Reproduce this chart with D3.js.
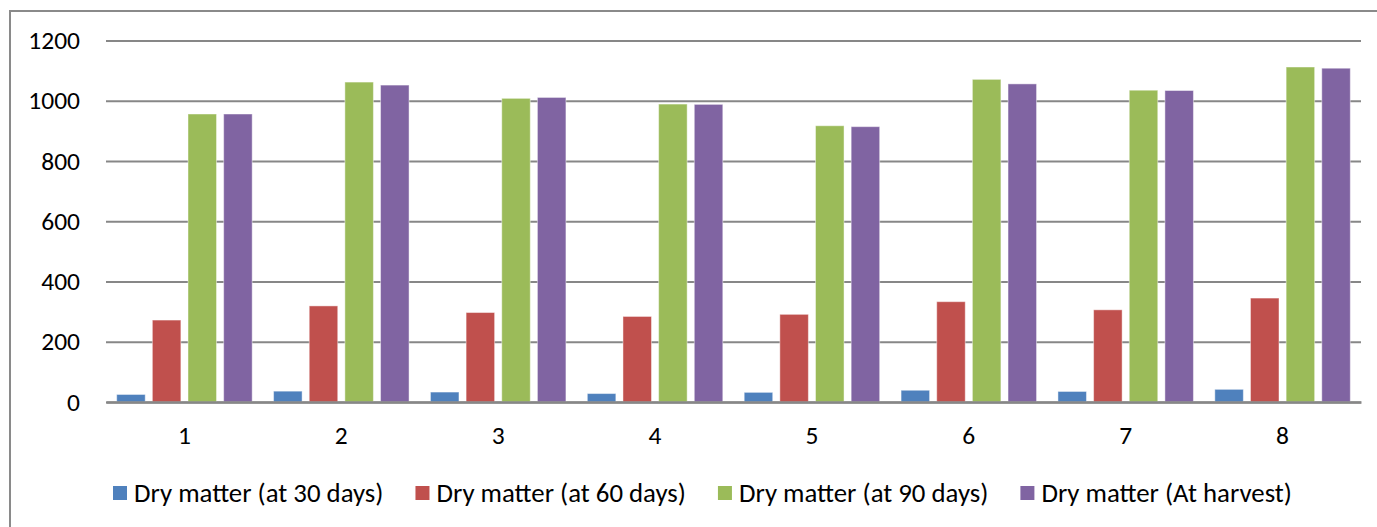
<!DOCTYPE html>
<html>
<head>
<meta charset="utf-8">
<script src="https://cdn.jsdelivr.net/npm/d3@7"></script>
<style>
  html, body { margin: 0; padding: 0; background: #fff; overflow: hidden; }
  svg { display: block; }
  text { font-family: Calibri, Carlito, Lato, "Liberation Sans", sans-serif; fill: #000; }
</style>
</head>
<body>
<script>
// Treatments on the x axis
const categories = ["1", "2", "3", "4", "5", "6", "7", "8"];

// Series names, in legend order
const seriesNames = [
  "Dry matter (at 30 days)",
  "Dry matter (at 60 days)",
  "Dry matter (at 90 days)",
  "Dry matter (At harvest)"
];

// Dry matter per treatment
const dm30 = [25, 36, 33, 28, 32, 39, 35, 42];
const dm60 = [272, 319, 297, 284, 291, 333, 306, 345];
const dm90 = [956, 1062, 1008, 989, 917, 1071, 1035, 1112];
const dmHarvest = [956, 1052, 1011, 988, 914, 1056, 1034, 1108];

// Value axis ticks
const yTicks = [0, 200, 400, 600, 800, 1000, 1200];

const seriesValues = [dm30, dm60, dm90, dmHarvest];
const colors = ["#4F81BD", "#C0504D", "#9BBB59", "#8064A2"];

const W = 1377, H = 527;
const plot = { left: 106, right: 1361, top: 40.5, bottom: 402 };
const labelSize = 25.5;
const legendSize = 26.8;

const svg = d3.select("body").append("svg")
  .attr("width", W).attr("height", H);

// Chart area frame
svg.append("rect")
  .attr("x", 10).attr("y", 11)
  .attr("width", W + 20).attr("height", H + 20)
  .attr("fill", "#fff")
  .attr("stroke", "#8a8a8a").attr("stroke-width", 2);

const x0 = d3.scaleBand()
  .domain(categories)
  .range([plot.left, plot.right])
  .paddingInner(0).paddingOuter(0);

const x1 = d3.scaleBand()
  .domain(d3.range(seriesNames.length))
  .range([0, x0.bandwidth()])
  .paddingInner(0.2).paddingOuter(0.3);

const y = d3.scaleLinear()
  .domain([0, 1200])
  .range([plot.bottom, plot.top]);

// Horizontal gridlines and value labels
const yAxis = d3.axisLeft(y)
  .tickValues(yTicks)
  .tickSize(-(plot.right - plot.left))
  .tickPadding(26)
  .tickFormat(d3.format("d"));

const gy = svg.append("g")
  .attr("transform", `translate(${plot.left},0)`)
  .call(yAxis);
gy.select(".domain").remove();
gy.selectAll(".tick line")
  .attr("stroke", "#878787").attr("stroke-width", 2);
gy.selectAll(".tick text")
  .attr("font-size", labelSize)
  .attr("fill", "#000");

// Bars
const rows = categories.map((c, i) => ({
  cat: c,
  vals: seriesValues.map((s, k) => ({ k, v: s[i] }))
}));

const groups = svg.append("g").selectAll("g")
  .data(rows).join("g")
  .attr("transform", d => `translate(${x0(d.cat)},0)`);

groups.selectAll("rect")
  .data(d => d.vals).join("rect")
  .attr("x", d => x1(d.k))
  .attr("width", x1.bandwidth())
  .attr("y", d => y(d.v))
  .attr("height", d => y(0) - y(d.v))
  .attr("fill", d => colors[d.k])
  .attr("stroke", "rgba(255,255,255,0.45)")
  .attr("stroke-width", 1);

// Category axis line and labels
const xAxis = d3.axisBottom(x0).tickSize(0).tickPadding(24);
const gx = svg.append("g")
  .attr("transform", `translate(0,${plot.bottom})`)
  .call(xAxis);
gx.select(".domain")
  .attr("stroke", "#878787").attr("stroke-width", 2.5);
gx.selectAll(".tick text")
  .attr("font-size", labelSize)
  .attr("fill", "#000");

// Legend
const legend = svg.append("g").attr("transform", "translate(113,493)");
let lx = 0;
seriesNames.forEach((name, k) => {
  const item = legend.append("g").attr("transform", `translate(${lx},0)`);
  item.append("rect")
    .attr("x", 0).attr("y", -7)
    .attr("width", 14).attr("height", 14)
    .attr("fill", colors[k]);
  const t = item.append("text")
    .attr("x", 21).attr("y", 0)
    .attr("dy", "0.35em")
    .attr("font-size", legendSize)
    .text(name);
  const tw = t.node().getComputedTextLength();
  lx += 21 + tw + 32;
});
</script>
</body>
</html>
